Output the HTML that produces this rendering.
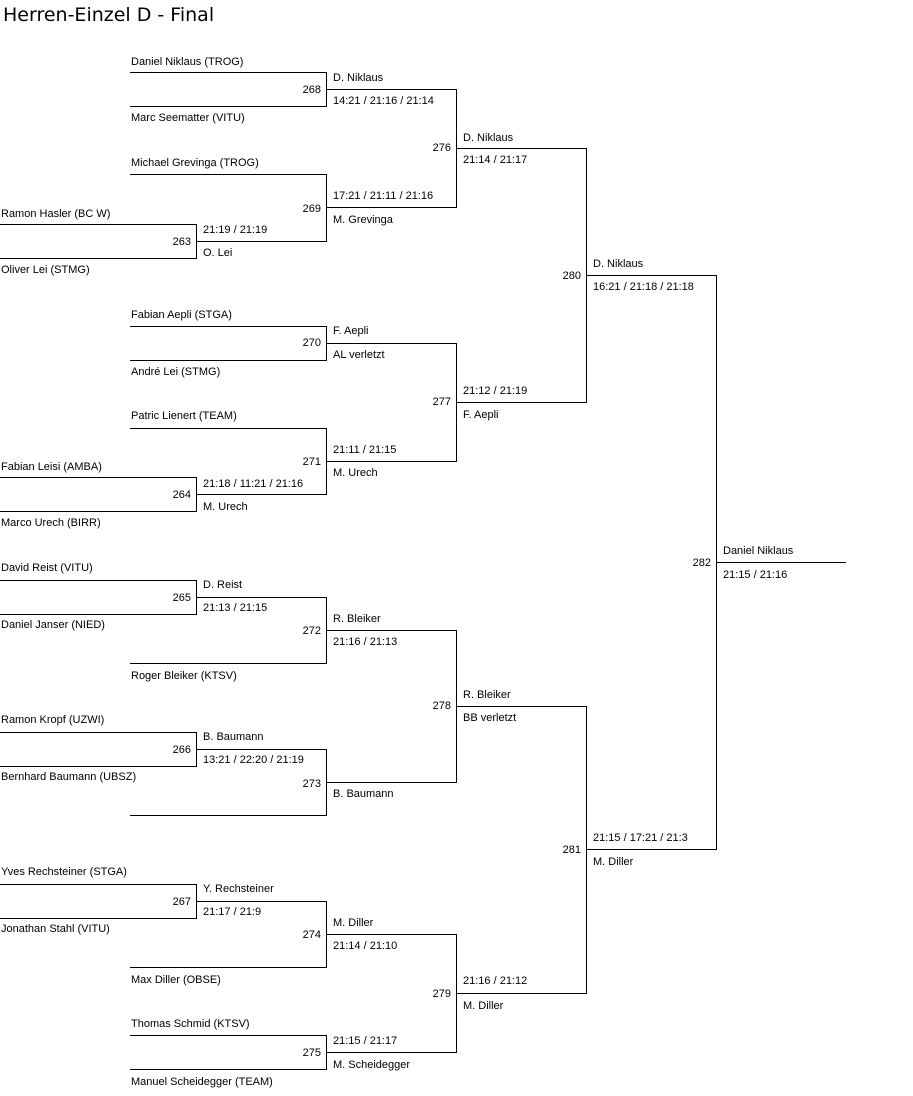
<!DOCTYPE html>
<html><head><meta charset="utf-8"><style>
body{margin:0;background:#fff;width:913px;height:1096px;overflow:hidden}
svg{display:block}
text{font-family:"Liberation Sans",sans-serif;font-size:11px;fill:#000}
.n{text-anchor:end}
.t{font-family:"DejaVu Sans","Liberation Sans",sans-serif;font-size:19px}
line{stroke:#000;stroke-width:1}
</style></head><body>
<svg width="913" height="1096" shape-rendering="crispEdges">
<text class="t" x="3" y="21">Herren-Einzel D - Final</text>
<g>
<line x1="0" y1="224.5" x2="196" y2="224.5"/><line x1="0" y1="258.5" x2="196" y2="258.5"/><line x1="196.5" y1="224" x2="196.5" y2="259"/>
<text x="1" y="217">Ramon Hasler (BC W)</text><text x="1" y="273">Oliver Lei (STMG)</text><text class="n" x="191" y="245">263</text>
<line x1="0" y1="477.5" x2="196" y2="477.5"/><line x1="0" y1="511.5" x2="196" y2="511.5"/><line x1="196.5" y1="477" x2="196.5" y2="512"/>
<text x="1" y="470">Fabian Leisi (AMBA)</text><text x="1" y="526">Marco Urech (BIRR)</text><text class="n" x="191" y="498">264</text>
<line x1="0" y1="580.5" x2="196" y2="580.5"/><line x1="0" y1="614.5" x2="196" y2="614.5"/><line x1="196.5" y1="580" x2="196.5" y2="615"/>
<text x="1" y="571">David Reist (VITU)</text><text x="1" y="628">Daniel Janser (NIED)</text><text class="n" x="191" y="601">265</text>
<line x1="0" y1="732.5" x2="196" y2="732.5"/><line x1="0" y1="766.5" x2="196" y2="766.5"/><line x1="196.5" y1="732" x2="196.5" y2="767"/>
<text x="1" y="723">Ramon Kropf (UZWI)</text><text x="1" y="780">Bernhard Baumann (UBSZ)</text><text class="n" x="191" y="753">266</text>
<line x1="0" y1="884.5" x2="196" y2="884.5"/><line x1="0" y1="918.5" x2="196" y2="918.5"/><line x1="196.5" y1="884" x2="196.5" y2="919"/>
<text x="1" y="875">Yves Rechsteiner (STGA)</text><text x="1" y="932">Jonathan Stahl (VITU)</text><text class="n" x="191" y="905">267</text>

<line x1="130" y1="72.5" x2="326" y2="72.5"/><line x1="130" y1="106.5" x2="326" y2="106.5"/><line x1="326.5" y1="72" x2="326.5" y2="107"/>
<text x="131" y="65">Daniel Niklaus (TROG)</text><text x="131" y="121">Marc Seematter (VITU)</text><text class="n" x="321" y="93">268</text>
<line x1="130" y1="174.5" x2="326" y2="174.5"/><line x1="196" y1="241.5" x2="326" y2="241.5"/><line x1="326.5" y1="174" x2="326.5" y2="242"/>
<text x="131" y="166">Michael Grevinga (TROG)</text><text class="n" x="321" y="212">269</text>
<text x="203" y="233">21:19 / 21:19</text><text x="203" y="256">O. Lei</text>
<line x1="130" y1="326.5" x2="326" y2="326.5"/><line x1="130" y1="360.5" x2="326" y2="360.5"/><line x1="326.5" y1="326" x2="326.5" y2="361"/>
<text x="131" y="318">Fabian Aepli (STGA)</text><text x="131" y="375">André Lei (STMG)</text><text class="n" x="321" y="346">270</text>
<line x1="130" y1="428.5" x2="326" y2="428.5"/><line x1="196" y1="494.5" x2="326" y2="494.5"/><line x1="326.5" y1="428" x2="326.5" y2="495"/>
<text x="131" y="419">Patric Lienert (TEAM)</text><text class="n" x="321" y="465">271</text>
<text x="203" y="487">21:18 / 11:21 / 21:16</text><text x="203" y="510">M. Urech</text>
<line x1="196" y1="597.5" x2="326" y2="597.5"/><line x1="130" y1="663.5" x2="326" y2="663.5"/><line x1="326.5" y1="597" x2="326.5" y2="664"/>
<text x="203" y="588">D. Reist</text><text x="203" y="611">21:13 / 21:15</text>
<text x="131" y="679">Roger Bleiker (KTSV)</text><text class="n" x="321" y="634">272</text>
<line x1="196" y1="749.5" x2="326" y2="749.5"/><line x1="130" y1="815.5" x2="326" y2="815.5"/><line x1="326.5" y1="749" x2="326.5" y2="816"/>
<text x="203" y="740">B. Baumann</text><text x="203" y="763">13:21 / 22:20 / 21:19</text><text class="n" x="321" y="787">273</text>
<line x1="196" y1="901.5" x2="326" y2="901.5"/><line x1="130" y1="967.5" x2="326" y2="967.5"/><line x1="326.5" y1="901" x2="326.5" y2="968"/>
<text x="203" y="892">Y. Rechsteiner</text><text x="203" y="915">21:17 / 21:9</text>
<text x="131" y="983">Max Diller (OBSE)</text><text class="n" x="321" y="938">274</text>
<line x1="130" y1="1035.5" x2="326" y2="1035.5"/><line x1="130" y1="1069.5" x2="326" y2="1069.5"/><line x1="326.5" y1="1035" x2="326.5" y2="1070"/>
<text x="131" y="1027">Thomas Schmid (KTSV)</text><text x="131" y="1085">Manuel Scheidegger (TEAM)</text><text class="n" x="321" y="1056">275</text>

<line x1="326" y1="89.5" x2="456" y2="89.5"/><line x1="326" y1="207.5" x2="456" y2="207.5"/><line x1="456.5" y1="89" x2="456.5" y2="208"/>
<text x="333" y="81">D. Niklaus</text><text x="333" y="104">14:21 / 21:16 / 21:14</text>
<text x="333" y="199">17:21 / 21:11 / 21:16</text><text x="333" y="223">M. Grevinga</text><text class="n" x="451" y="151">276</text>
<line x1="326" y1="343.5" x2="456" y2="343.5"/><line x1="326" y1="461.5" x2="456" y2="461.5"/><line x1="456.5" y1="343" x2="456.5" y2="462"/>
<text x="333" y="334">F. Aepli</text><text x="333" y="358">AL verletzt</text>
<text x="333" y="453">21:11 / 21:15</text><text x="333" y="476">M. Urech</text><text class="n" x="451" y="405">277</text>
<line x1="326" y1="630.5" x2="456" y2="630.5"/><line x1="326" y1="782.5" x2="456" y2="782.5"/><line x1="456.5" y1="630" x2="456.5" y2="783"/>
<text x="333" y="622">R. Bleiker</text><text x="333" y="645">21:16 / 21:13</text>
<text x="333" y="797">B. Baumann</text><text class="n" x="451" y="709">278</text>
<line x1="326" y1="934.5" x2="456" y2="934.5"/><line x1="326" y1="1052.5" x2="456" y2="1052.5"/><line x1="456.5" y1="934" x2="456.5" y2="1053"/>
<text x="333" y="926">M. Diller</text><text x="333" y="949">21:14 / 21:10</text>
<text x="333" y="1044">21:15 / 21:17</text><text x="333" y="1068">M. Scheidegger</text><text class="n" x="451" y="997">279</text>

<line x1="456" y1="148.5" x2="586" y2="148.5"/><line x1="456" y1="402.5" x2="586" y2="402.5"/><line x1="586.5" y1="148" x2="586.5" y2="403"/>
<text x="463" y="141">D. Niklaus</text><text x="463" y="163">21:14 / 21:17</text>
<text x="463" y="394">21:12 / 21:19</text><text x="463" y="418">F. Aepli</text><text class="n" x="581" y="279">280</text>
<line x1="456" y1="706.5" x2="586" y2="706.5"/><line x1="456" y1="993.5" x2="586" y2="993.5"/><line x1="586.5" y1="706" x2="586.5" y2="994"/>
<text x="463" y="698">R. Bleiker</text><text x="463" y="721">BB verletzt</text>
<text x="463" y="984">21:16 / 21:12</text><text x="463" y="1009">M. Diller</text><text class="n" x="581" y="853">281</text>

<line x1="586" y1="275.5" x2="716" y2="275.5"/><line x1="586" y1="849.5" x2="716" y2="849.5"/><line x1="716.5" y1="275" x2="716.5" y2="850"/>
<text x="593" y="267">D. Niklaus</text><text x="593" y="290">16:21 / 21:18 / 21:18</text>
<text x="593" y="841">21:15 / 17:21 / 21:3</text><text x="593" y="865">M. Diller</text><text class="n" x="711" y="566">282</text>

<line x1="716" y1="562.5" x2="846" y2="562.5"/>
<text x="723" y="554">Daniel Niklaus</text><text x="723" y="578">21:15 / 21:16</text>
</g>
</svg>
</body></html>
